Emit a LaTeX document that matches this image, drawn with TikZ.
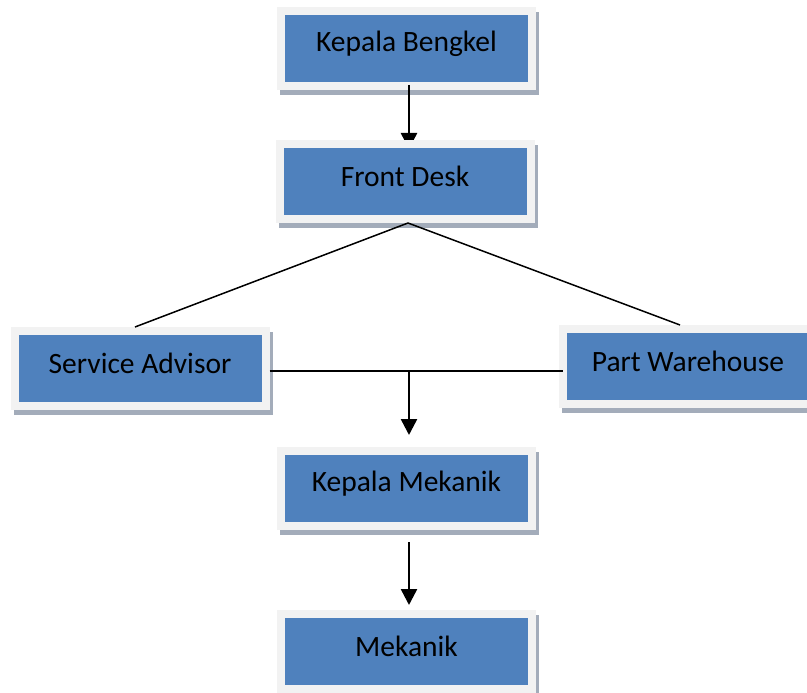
\documentclass[tikz,border=0pt]{standalone}
\usepackage{fontspec}
\setmainfont{Carlito}
\usetikzlibrary{arrows.meta}
\definecolor{boxblue}{HTML}{4F81BD}
\definecolor{framegray}{HTML}{F2F2F2}
\definecolor{shadowgray}{HTML}{A3ACBA}
\pgfdeclarelayer{front}
\pgfsetlayers{main,front}
\newcommand\uptext[1]{\raisebox{5pt}[\height][\depth]{#1}}
\tikzset{
  box/.style={fill=boxblue, minimum width=243pt, minimum height=67pt, inner sep=0pt, outer sep=0pt,
    font=\fontsize{29.5}{35}\selectfont, text=black,
    preaction={draw=shadowgray, line width=16pt, transform canvas={shift={(3pt,-5pt)}}},
    preaction={draw=framegray, line width=16pt}},
  thinline/.style={line width=1.5pt, draw=black},
  arrowline/.style={line width=2.5pt, draw=black, -{Triangle[width=16pt,length=16pt]}}
}
\begin{document}
\begin{tikzpicture}[x=1pt,y=-1pt]
\useasboundingbox (0,0) rectangle (807,693);
\clip (0,0) rectangle (807,693);
\node[box] (kb) at (406.5,48.5) {\uptext{Kepala Bengkel}};
\node[box] (sa) at (140,368.5) {\uptext{Service Advisor}};
\node[box] (pw) at (688,366.5) {\uptext{Part Warehouse}};
\node[box] (km) at (406.5,488.5) {\uptext{Kepala Mekanik}};
\node[box] (mk) at (406.5,651.5) {\uptext{Mekanik}};
\begin{pgfonlayer}{front}
\node[box] (fd) at (405,181.5) {\uptext{Front Desk}};
\draw[thinline] ([xshift=3pt,yshift=-8pt]fd.south) -- ([xshift=-5pt,yshift=8pt]sa.north);
\draw[thinline] ([xshift=3pt,yshift=-8pt]fd.south) -- ([xshift=-8pt,yshift=8pt]pw.north);
\end{pgfonlayer}
\coordinate (j) at (409,371);
\draw[arrowline] ([xshift=2.5pt,yshift=-3pt]kb.south) -- ([xshift=4pt,yshift=-1pt]fd.north);
\draw[thinline] ([xshift=8pt]sa.east |- j) -- ([xshift=-4pt]pw.west |- j);
\draw[arrowline] (j) -- ([xshift=2.5pt,yshift=20pt]km.north);
\draw[arrowline] ([xshift=2.5pt,yshift=-20pt]km.south) -- ([xshift=2.5pt,yshift=13pt]mk.north);
\end{tikzpicture}
\end{document}
